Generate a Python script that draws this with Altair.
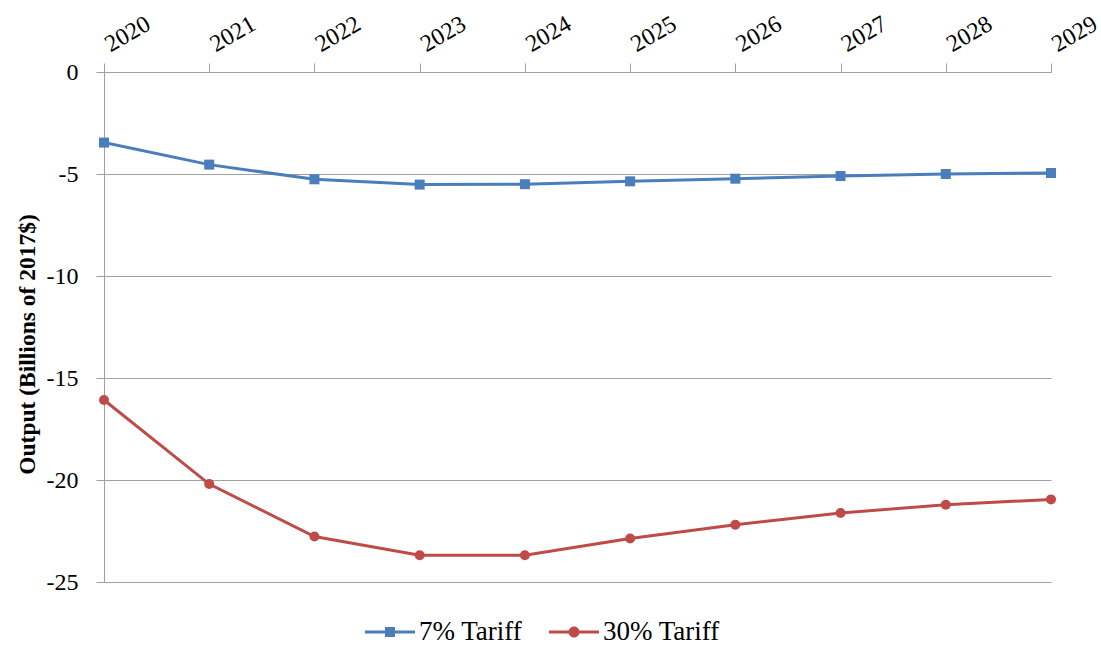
import altair as alt
import pandas as pd

# Output change by year under two tariff scenarios (billions of 2017 dollars)
years = [2020, 2021, 2022, 2023, 2024, 2025, 2026, 2027, 2028, 2029]
tariff_7 = [-3.46, -4.54, -5.26, -5.52, -5.50, -5.36, -5.23, -5.10, -5.00, -4.95]
tariff_30 = [-16.08, -20.20, -22.77, -23.69, -23.69, -22.87, -22.19, -21.62, -21.21, -20.95]
series_names = ["7% Tariff", "30% Tariff"]
series_colors = ["#4A7EBB", "#BE4B48"]
y_ticks = [-25, -20, -15, -10, -5, 0]

df = pd.DataFrame(
    {
        "year": years * 2,
        "value": tariff_7 + tariff_30,
        "series": [series_names[0]] * len(years) + [series_names[1]] * len(years),
    }
)

FONT = "Liberation Serif"
GRAY = "#a0a0a0"

# legend glyphs: a line segment with the series marker in the middle
sym_square = "M-1,-0.06H1V0.06H-1Z M-0.2,-0.2H0.2V0.2H-0.2Z"
sym_circle = ("M-1,-0.06H1V0.06H-1Z "
              "M0.22,0 A0.22,0.22 0 1,1 -0.22,0 A0.22,0.22 0 1,1 0.22,0 Z")

x_enc = alt.X(
    "year:Q",
    scale=alt.Scale(domain=[years[0], years[-1]], nice=False, zero=False),
    axis=alt.Axis(
        orient="top",
        values=years,
        format="d",
        title=None,
        grid=False,
        domain=True,
        domainColor=GRAY,
        domainWidth=1,
        ticks=True,
        tickColor=GRAY,
        tickSize=9,
        labelAngle=-30,
        labelAlign="left",
        labelBaseline="alphabetic",
        labelPadding=11,
        labelOffset=6,
        labelFlush=False,
        labelOverlap=False,
        labelFont=FONT,
        labelFontSize=24,
        labelColor="black",
    ),
)

y_enc = alt.Y(
    "value:Q",
    scale=alt.Scale(domain=[-25, 0], nice=False),
    axis=alt.Axis(
        values=y_ticks,
        labelExpr="toString(datum.value)",
        title="Output (Billions  of 2017$)",
        titleFont=FONT,
        titleFontSize=23.5,
        titleFontWeight="bold",
        titleColor="black",
        titleAngle=-90,
        titleAlign="center",
        titleBaseline="alphabetic",
        titleX=-70,
        titleY=272,
        grid=True,
        gridColor=GRAY,
        gridWidth=1,
        domain=True,
        domainColor=GRAY,
        domainWidth=1,
        ticks=True,
        tickColor=GRAY,
        tickSize=8,
        labelPadding=18,
        labelFlush=False,
        labelFont=FONT,
        labelFontSize=24,
        labelColor="black",
    ),
)

base = alt.Chart(df)
layers = []

# one line + marker layer per scenario
for name, color, marker in zip(series_names, series_colors, ["square", "circle"]):
    sub = base.transform_filter(alt.datum.series == name)
    enc_x = x_enc if not layers else alt.X("year:Q")
    enc_y = y_enc if not layers else alt.Y("value:Q")
    layers.append(
        sub.mark_line(strokeWidth=3, color=color).encode(x=enc_x, y=enc_y)
    )
    if marker == "square":
        pts = sub.mark_square(size=100, opacity=1, color=color)
    else:
        pts = sub.mark_circle(size=100, opacity=1, color=color)
    layers.append(pts.encode(x="year:Q", y="value:Q"))

legend_kw = dict(
    title=None,
    orient="none",
    direction="horizontal",
    legendX=261,
    legendY=535,
    symbolSize=2500,
    symbolOpacity=1,
    symbolStrokeWidth=0,
    labelFont=FONT,
    labelFontSize=27,
    labelColor="black",
    labelOffset=4,
    columnPadding=26,
    padding=0,
)

legend_layer = base.mark_point(filled=True, opacity=0).encode(
    x="year:Q",
    y="value:Q",
    color=alt.Color(
        "series:N",
        scale=alt.Scale(domain=series_names, range=series_colors),
        legend=alt.Legend(**legend_kw),
    ),
    shape=alt.Shape(
        "series:N",
        scale=alt.Scale(domain=series_names, range=[sym_square, sym_circle]),
        legend=alt.Legend(**legend_kw),
    ),
)
layers.append(legend_layer)

chart = (
    alt.layer(*layers)
    .properties(
        width=947,
        height=510,
        autosize=alt.AutoSizeParams(type="none"),
        padding={"left": 104, "top": 72, "right": 50, "bottom": 63},
        background="white",
    )
    .configure_view(stroke=None)
)

chart.save("out.html", embed_options={"renderer": "svg", "actions": False})
